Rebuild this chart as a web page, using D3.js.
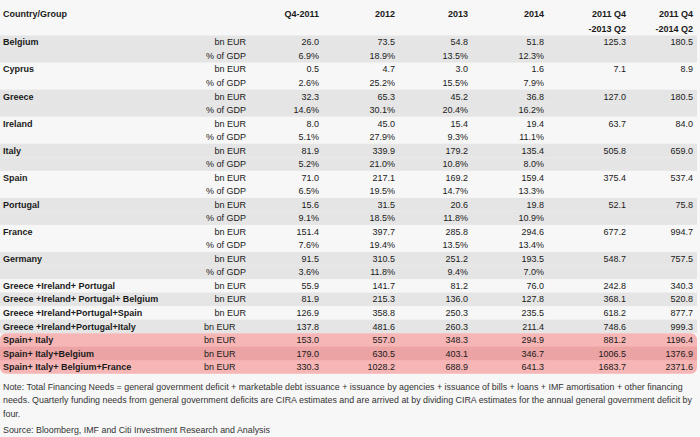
<!DOCTYPE html>
<html><head><meta charset="utf-8">
<script src="https://cdn.jsdelivr.net/npm/d3@7/dist/d3.min.js"></script>
<style>
html,body{margin:0;padding:0;background:#f7f7f7;}
svg{display:block;font-family:"Liberation Sans",Arial,sans-serif;}
</style></head>
<body><svg id="chart" width="700" height="437"></svg>
<script>
// ---- data ----
const columns = ["Q4-2011","2012","2013","2014","2011 Q4|-2013 Q2","2011 Q4|-2014 Q2"];
const countries = ["Belgium","Cyprus","Greece","Ireland","Italy","Spain","Portugal","France","Germany"];
const countryBn = [
  [26.0, 73.5, 54.8, 51.8, 125.3, 180.5],
  [0.5, 4.7, 3.0, 1.6, 7.1, 8.9],
  [32.3, 65.3, 45.2, 36.8, 127.0, 180.5],
  [8.0, 45.0, 15.4, 19.4, 63.7, 84.0],
  [81.9, 339.9, 179.2, 135.4, 505.8, 659.0],
  [71.0, 217.1, 169.2, 159.4, 375.4, 537.4],
  [15.6, 31.5, 20.6, 19.8, 52.1, 75.8],
  [151.4, 397.7, 285.8, 294.6, 677.2, 994.7],
  [91.5, 310.5, 251.2, 193.5, 548.7, 757.5]
];
const countryPct = [
  [6.9, 18.9, 13.5, 12.3],
  [2.6, 25.2, 15.5, 7.9],
  [14.6, 30.1, 20.4, 16.2],
  [5.1, 27.9, 9.3, 11.1],
  [5.2, 21.0, 10.8, 8.0],
  [6.5, 19.5, 14.7, 13.3],
  [9.1, 18.5, 11.8, 10.9],
  [7.6, 19.4, 13.5, 13.4],
  [3.6, 11.8, 9.4, 7.0]
];
const groups = ["Greece +Ireland+ Portugal","Greece +Ireland+ Portugal+ Belgium","Greece +Ireland+Portugal+Spain","Greece +Ireland+Portugal+Italy","Spain+ Italy","Spain+ Italy+Belgium","Spain+ Italy+ Belgium+France"];
const groupBn = [
  [55.9, 141.7, 81.2, 76.0, 242.8, 340.3],
  [81.9, 215.3, 136.0, 127.8, 368.1, 520.8],
  [126.9, 358.8, 250.3, 235.5, 618.2, 877.7],
  [137.8, 481.6, 260.3, 211.4, 748.6, 999.3],
  [153.0, 557.0, 348.3, 294.9, 881.2, 1196.4],
  [179.0, 630.5, 403.1, 346.7, 1006.5, 1376.9],
  [330.3, 1028.2, 688.9, 641.3, 1683.7, 2371.6]
];
const groupStyle = ["plainR","grayR","plainR","grayL","red","redDark","red"];
const noteLines = [
  "Note: Total Financing Needs = general government deficit + marketable debt issuance + issuance by agencies + issuance of bills + loans + IMF amortisation + other financing",
  "needs. Quarterly funding needs from general government deficits are CIRA estimates and are arrived at by dividing CIRA estimates for the annual general government deficit by",
  "four."
];
const sourceText = "Source: Bloomberg, IMF and Citi Investment Research and Analysis";

// ---- build rows ----
const rows = [];
countries.forEach((c,i)=>{
  const shade = i%2===0 ? "gray" : "plain";
  rows.push({label:c, unit:"bn EUR", unitAlign:"R", vals:countryBn[i].map(v=>v.toFixed(1)), shade});
  rows.push({label:"", unit:"% of GDP", unitAlign:"R", vals:countryPct[i].map(v=>v.toFixed(1)+"%"), shade});
});
groups.forEach((g,i)=>{
  const st = groupStyle[i];
  rows.push({label:g, unit:"bn EUR", unitAlign: st==="plainR"||st==="grayR" ? "R":"L",
    vals:groupBn[i].map(v=>v.toFixed(1)), shade: st.replace(/[RL]$/,"")});
});

const svg = d3.select("#chart");
const y = d3.scaleBand().domain(d3.range(rows.length)).range([35.5, 35.5+13.53*rows.length]).padding(0);
const xCol = d3.scaleOrdinal().domain(columns).range([319, 395, 468, 544, 626, 693]);
const colors = {gray:"#e5e5e5", red:"#f6b6b6", redDark:"#eba3a3"};

// bands
const bandG = svg.append("g");
rows.forEach((r,i)=>{
  if(r.shade==="gray"){
    bandG.append("rect").attr("x",0).attr("width",697).attr("y",y(i)).attr("height",y.bandwidth()).attr("fill",colors.gray);
  }
});
const redIdx = rows.map((r,i)=>r.shade.startsWith("red")?i:-1).filter(i=>i>=0);
bandG.append("rect").attr("x",0).attr("width",697).attr("y",y(redIdx[0]))
  .attr("height",y.bandwidth()*redIdx.length).attr("rx",6).attr("fill",colors.red);
redIdx.forEach(i=>{ if(rows[i].shade==="redDark") bandG.append("rect").attr("x",0).attr("width",697).attr("y",y(i)).attr("height",y.bandwidth()).attr("fill",colors.redDark); });

// header
const hdr = svg.append("g").attr("font-size","9px").attr("font-weight","bold").attr("fill","#1a1a1a");
hdr.append("text").attr("x",3).attr("y",14).attr("dy","0.35em").text("Country/Group");
columns.forEach(c=>{
  c.split("|").forEach((p,k)=>{
    hdr.append("text").attr("x",xCol(c)).attr("y",14+k*14.5).attr("dy","0.35em").attr("text-anchor","end").text(p);
  });
});

// body
const body = svg.append("g").attr("font-size","9px").attr("fill","#1a1a1a");
rows.forEach((r,i)=>{
  const cy = y(i)+y.bandwidth()/2;
  if(r.label) body.append("text").attr("x",3).attr("y",cy).attr("dy","0.35em").attr("font-weight","bold").text(r.label);
  body.append("text").attr("x", r.unitAlign==="R"?246:204).attr("y",cy).attr("dy","0.35em")
    .attr("text-anchor", r.unitAlign==="R"?"end":"start").text(r.unit);
  r.vals.forEach((v,k)=>{
    body.append("text").attr("x",xCol(columns[k])).attr("y",cy).attr("dy","0.35em").attr("text-anchor","end").text(v);
  });
});

// notes: fit first line to the reference width
const note = svg.append("g").attr("font-size","9.4px").attr("fill","#333");
const noteTexts = noteLines.map((t,k)=>note.append("text").attr("x",3).attr("y",387+k*13.2).attr("dy","0.35em").text(t));
const src = note.append("text").attr("x",3).attr("y",430).attr("dy","0.35em").text(sourceText);
const w1 = noteTexts[0].node().getComputedTextLength();
const fs = 9.4 * 679 / w1;
note.attr("font-size", fs + "px");
const w2 = noteTexts[1].node().getComputedTextLength();
if (w2 > 693) noteTexts[1].attr("textLength", 692).attr("lengthAdjust","spacingAndGlyphs");
</script></body></html>
